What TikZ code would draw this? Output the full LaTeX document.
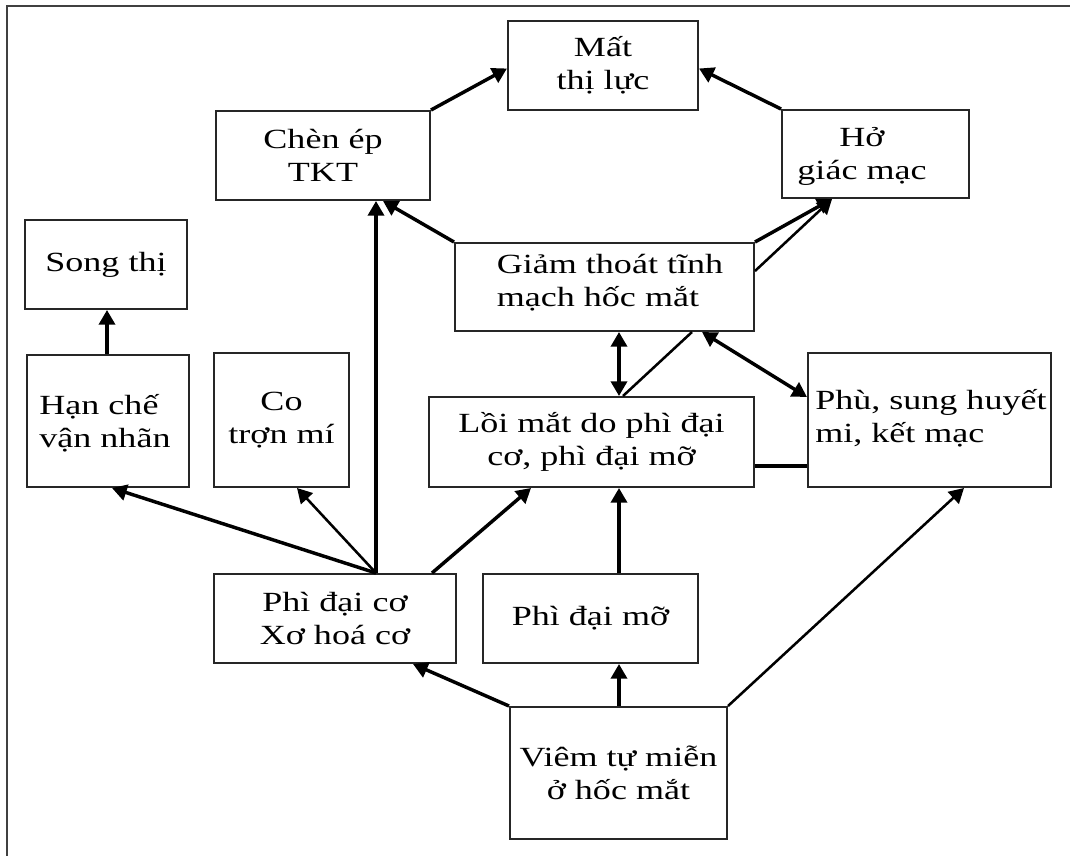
\documentclass[tikz,border=0pt]{standalone}
\usepackage{fontspec}
\setmainfont{Liberation Serif}[FakeStretch=1.3]
\usetikzlibrary{arrows.meta,calc}
\begin{document}
\begin{tikzpicture}[x=0.75pt,y=-0.75pt,
  box/.style 2 args={draw=black!85, line width=1.5pt, inner sep=0pt,
    minimum width=#1*0.75pt, minimum height=#2*0.75pt,
    font=\fontsize{20.8}{24.75}\selectfont, align=center},
  txt/.style={inner sep=0pt, font=\fontsize{20.8}{24.75}\selectfont},
  conn/.style={line width=2.6pt, -{Triangle[length=11pt,width=12pt]}},
  thinconn/.style={line width=1.9pt, -{Triangle[length=11pt,width=12pt]}},
  dconn/.style={line width=2.6pt, {Triangle[length=11pt,width=12pt]}-{Triangle[length=11pt,width=12pt]}},
  plain/.style={line width=1.9pt}]
\useasboundingbox (0,0) rectangle (1070,856);
\draw[line width=1.6pt, black!75] (7,856) -- (7,6) -- (1070,6);

\node[box={190}{89}] (mat) at (603,65.5) {Mất\\thị lực};
\node[box={214}{89}] (chen) at (323,155.5) {Chèn ép\\TKT};
\node[box={187}{88}] (ho) at (875.5,154) {};
\node[txt, align=center] (hot) at (862,156) {Hở\\giác mạc};
\node[box={162}{89}] (song) at (106,264.5) {Song thị};
\node[box={162}{132}] (han) at (108,421) {};
\node[txt, align=left] (hant) at (105,423) {Hạn chế\\vận nhãn};
\node[box={135}{134}] (co) at (281.5,420) {Co\\trợn mí};
\node[box={299}{88}] (giam) at (604.5,287) {};
\node[txt, align=left] (giamt) at (610,283) {Giảm thoát tĩnh\\mạch hốc mắt};
\node[box={325}{90}] (loi) at (591.5,442) {Lồi mắt do phì đại\\cơ, phì đại mỡ};
\node[box={243}{134}] (phu) at (929.5,420) {};
\node[txt, align=left, anchor=west] (phut) at (815,418) {Phù, sung huyết\\mi, kết mạc};
\node[box={242}{89}] (pdc) at (335,618.5) {Phì đại cơ\\Xơ hoá cơ};
\node[box={215}{89}] (pdm) at (590.5,618.5) {Phì đại mỡ};
\node[box={217}{132}] (viem) at (618.5,773) {Viêm tự miễn\\ở hốc mắt};

% top
\draw[conn] (chen.north east) -- ($(mat.west)+(0,3)$);
\draw[conn] (ho.north west) -- ($(mat.east)+(0,3)$);
\draw[conn] (giam.north west) -- ($(chen.south east)+(-48,0)$);
\draw[conn] (giam.north east) -- ($(ho.south west)+(51,0)$);
\draw[thinconn] ($(giam.north east)+(0,29)$) -- ($(ho.south west)+(51,0)$);
\draw[conn] ($(han.north)+(-1,0)$) -- ($(song.south)+(1,0)$);

% from Phi dai co
\draw[conn] ($(pdc.north)+(41,0)$) -- ($(chen.south)+(53,0)$);
\draw[conn] ($(pdc.north)+(41,0)$) -- ($(han.south)+(4,0)$);
\draw[thinconn] ($(pdc.north)+(41,0)$) -- ($(co.south)+(15.5,0)$);
\draw[conn] ($(pdc.north east)+(-25,0)$) -- ($(loi.south west)+(103,0)$);

% around Giam thoat
\draw[dconn] ($(giam.south)+(14.5,0)$) -- ($(loi.north)+(27.5,0)$);
\draw[plain] ($(giam.south)+(87.5,0)$) -- ($(loi.north)+(31.5,0)$);
\draw[dconn] ($(giam.south)+(97.5,0)$) -- ($(phu.west)+(0,-23)$);
\draw[line width=3pt] ($(loi.south east)+(0,-22)$) -- ($(phu.south west)+(0,-22)$);

% bottom
\draw[conn] ($(pdm.north)+(28.5,0)$) -- ($(loi.south)+(27.5,0)$);
\draw[conn] (viem.north west) -- ($(pdc.south)+(78,0)$);
\draw[conn] ($(viem.north)+(0.5,0)$) -- ($(pdm.south)+(28.5,0)$);
\draw[thinconn] (viem.north east) -- ($(phu.south)+(34.5,0)$);
\end{tikzpicture}
\end{document}
